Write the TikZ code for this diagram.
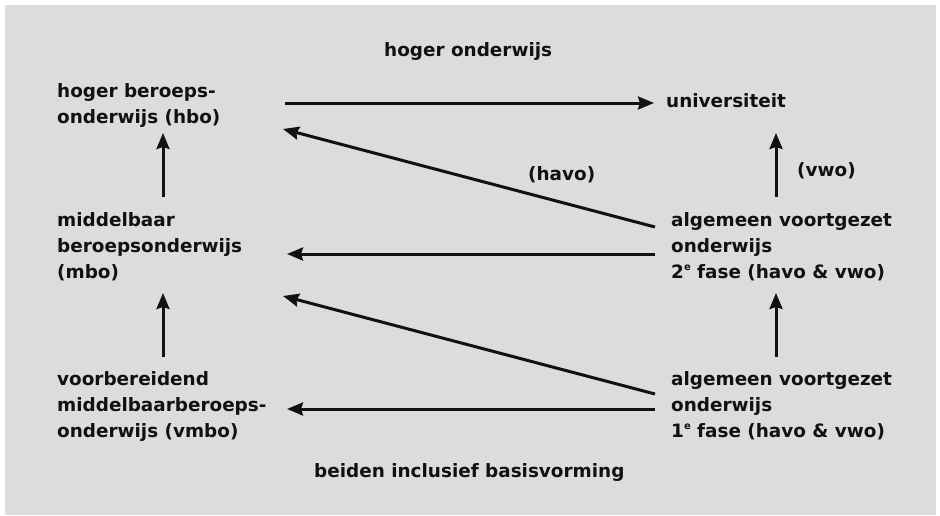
\documentclass[tikz,border=0pt]{standalone}
\usepackage{fontspec}
\setmainfont{DejaVu Sans}
\usetikzlibrary{arrows.meta}
\definecolor{panel}{RGB}{220,220,220}
\definecolor{ink}{RGB}{17,17,17}
\newcommand{\ordsup}[1]{\raisebox{0.75ex}{\fontsize{10}{10}\selectfont #1}}
\begin{document}
\begin{tikzpicture}[x=1pt,y=-1pt,
  lbl/.style={inner sep=0pt, anchor=base west, align=left,
    font=\fontsize{18.4}{26}\selectfont\bfseries, text=ink},
  arr/.style={line width=3pt, draw=ink,
    -{Stealth[length=16pt,width=13pt,inset=2pt]}}]
\useasboundingbox (0,0) rectangle (940,515);
\fill[panel] (5,5) rectangle (936,515);

% labels (multi-line labels are placed by the baseline of their last line)
\node[lbl] (top)   at (384,56)  {hoger onderwijs};
\node[lbl] (hbo)   at (57,123)  {hoger beroeps-\\onderwijs (hbo)};
\node[lbl] (univ)  at (666,107) {universiteit};
\node[lbl] (mbo)   at (57,278)  {middelbaar\\beroepsonderwijs\\(mbo)};
\node[lbl] (avo2)  at (671,278) {algemeen voortgezet\\onderwijs\\2\ordsup{e} fase (havo \& vwo)};
\node[lbl] (vmbo)  at (57,437)  {voorbereidend\\middelbaarberoeps-\\onderwijs (vmbo)};
\node[lbl] (avo1)  at (671,437) {algemeen voortgezet\\onderwijs\\1\ordsup{e} fase (havo \& vwo)};
\node[lbl] (havo)  at (528,180) {(havo)};
\node[lbl] (vwo)   at (797,176) {(vwo)};
\node[lbl] (basis) at (314,477) {beiden inclusief basisvorming};

% connector ends
\coordinate (hbo-r)   at (285,103);
\coordinate (hbo-d)   at (283,129);
\coordinate (hbo-b)   at (163,133);
\coordinate (univ-l)  at (654,103);
\coordinate (univ-b)  at (776,133);
\coordinate (mbo-t)   at (163,197);
\coordinate (mbo-r)   at (287,254);
\coordinate (mbo-d)   at (283,296);
\coordinate (mbo-b)   at (163,293);
\coordinate (avo2-t)  at (776,197);
\coordinate (avo2-d)  at (655,227);
\coordinate (avo2-l)  at (655,254);
\coordinate (avo2-b)  at (776,293);
\coordinate (vmbo-t)  at (163,357);
\coordinate (vmbo-r)  at (287,409);
\coordinate (avo1-t)  at (776,357);
\coordinate (avo1-d)  at (655,394);
\coordinate (avo1-l)  at (655,409);

% connectors
\draw[arr] (hbo-r)  -- (univ-l);
\draw[arr] (avo2-d) -- (hbo-d);
\draw[arr] (avo2-l) -- (mbo-r);
\draw[arr] (avo1-d) -- (mbo-d);
\draw[arr] (avo1-l) -- (vmbo-r);
\draw[arr] (mbo-t)  -- (hbo-b);
\draw[arr] (vmbo-t) -- (mbo-b);
\draw[arr] (avo2-t) -- (univ-b);
\draw[arr] (avo1-t) -- (avo2-b);
\end{tikzpicture}
\end{document}
